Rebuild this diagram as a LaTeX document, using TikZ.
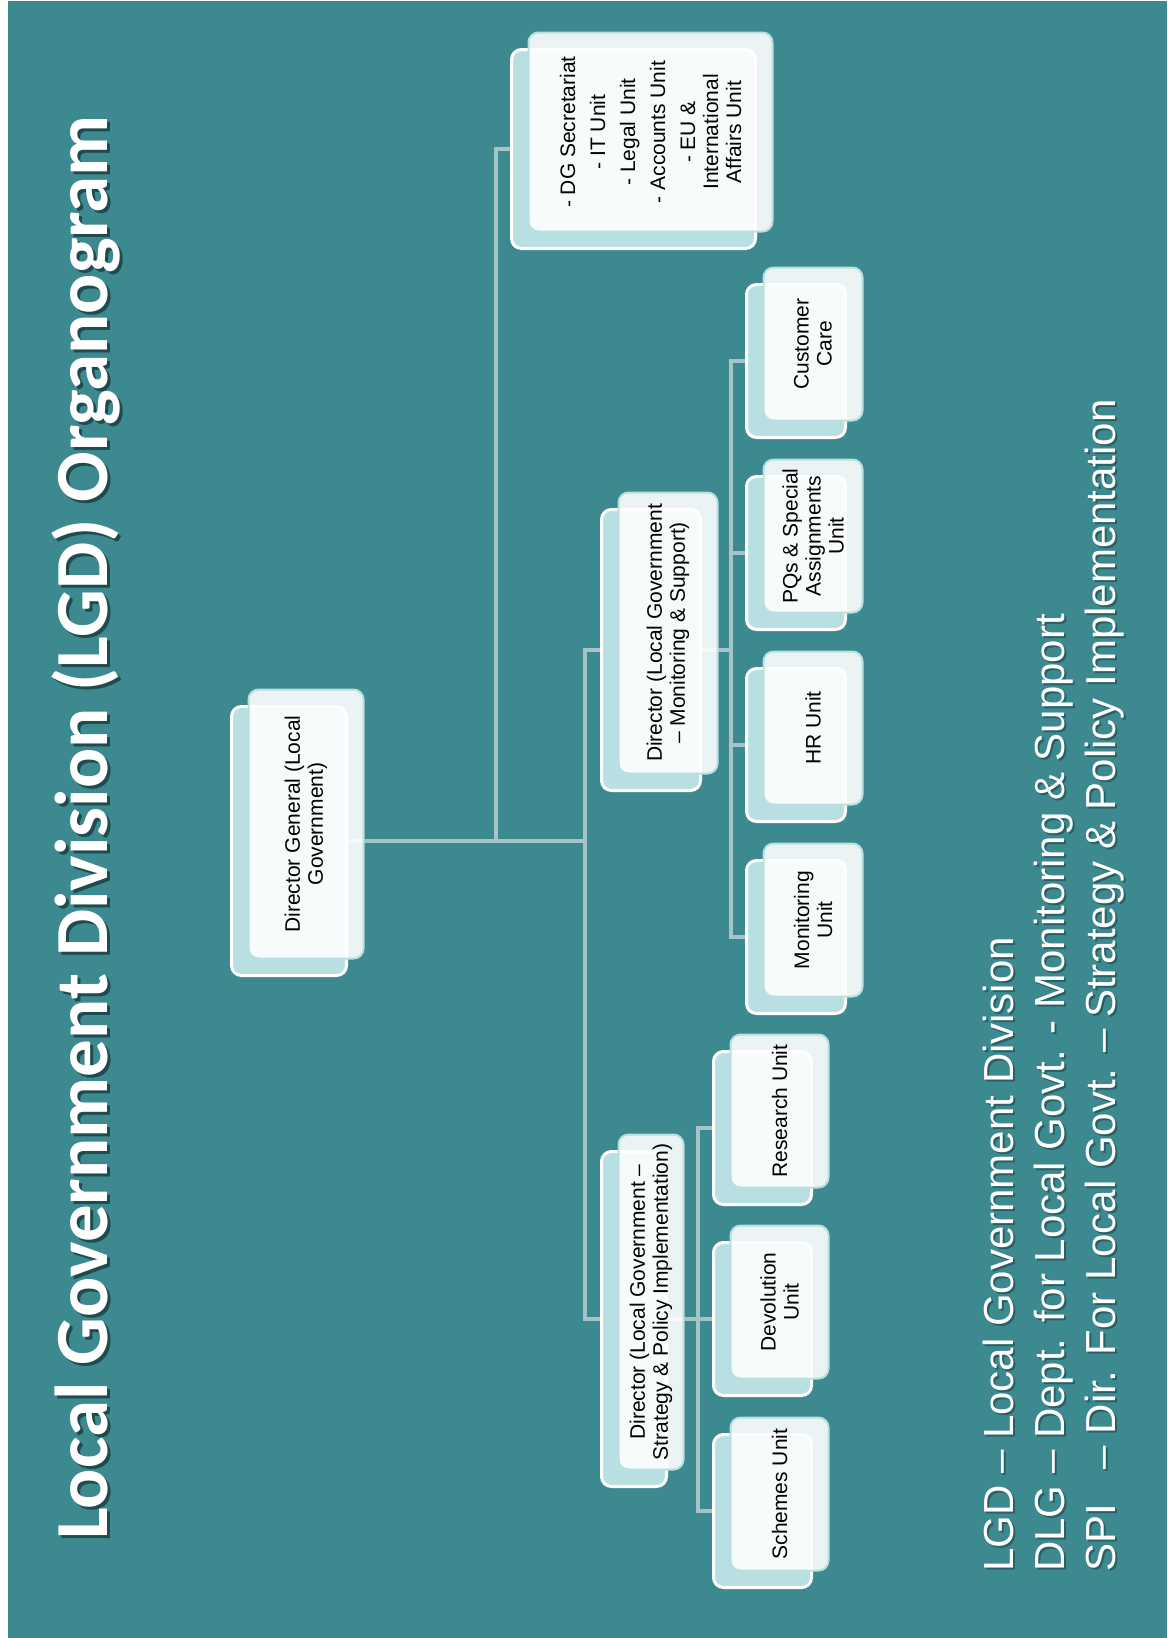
\documentclass[tikz,border=0pt]{standalone}
\usepackage{fontspec}
\setmainfont{Liberation Sans}
\newfontfamily\titlefont{Carlito}
\usetikzlibrary{calc,backgrounds}

\definecolor{slideteal}{RGB}{60,138,143}
\definecolor{paleteal}{RGB}{184,223,225}
\definecolor{linkgrey}{RGB}{165,196,198}

\begin{document}
\begin{tikzpicture}[x=1pt, y=1pt,
    unit/.style={rectangle, rounded corners=10pt, inner sep=0pt, outer sep=0pt,
      fill=paleteal, draw=white, line width=3pt,
      postaction={transform canvas={shift={(17pt,17pt)}}, fill=white, fill opacity=0.9, draw=paleteal, line width=2pt}},
    unittext/.style={rotate=90, align=center, text=black, font=\fontsize{21}{23}\selectfont},
    link/.style={draw=linkgrey, line width=3.5pt, line cap=rect},
    heading/.style={rotate=90, anchor=base west, inner sep=0pt, font=\titlefont\bfseries\fontsize{75}{80}\selectfont},
    keyline/.style={rotate=90, anchor=base west, inner sep=0pt, font=\fontsize{42}{48}\selectfont}]
  \useasboundingbox (0,0) rectangle (1167,-1638);

  % Title
  \node[heading, text=black, opacity=0.45] (titleshade) at (110,-1543) {Local Government Division (LGD) Organogram};
  \node[heading, text=white] (title) at (107,-1540) {Local Government Division (LGD) Organogram};

  % Director General and secretariat
  \node[unit, minimum width=115pt, minimum height=269pt] (dg) at (289,-841) {};
  \node[unittext] (dgtext) at ($(dg)+(17,17)$) {Director General (Local\\Government)};
  \node[unit, minimum width=244pt, minimum height=199pt] (sec) at (633.5,-149) {};
  \node[unittext] (sectext) at ($(sec)+(17,17)$) {- DG Secretariat\\[7pt]- IT Unit\\[7pt]- Legal Unit\\[7pt]- Accounts Unit\\[7pt]- EU \&\\International\\Affairs Unit};

  % Directors
  \node[unit, minimum width=99pt, minimum height=281pt] (mondir) at (651,-650) {};
  \node[unittext] (mondirtext) at ($(mondir)+(17,17)$) {Director (Local Government\\– Monitoring \& Support)};
  \node[unit, minimum width=65pt, minimum height=335pt] (spidir) at (634,-1319) {};
  \node[unittext] (spidirtext) at ($(spidir)+(17,17)$) {Director (Local Government –\\Strategy \& Policy Implementation)};

  % Monitoring & Support units
  \node[unit, minimum width=99pt, minimum height=153pt] (care) at (796,-361) {};
  \node[unittext] (caretext) at ($(care)+(17,17)$) {Customer\\Care};
  \node[unit, minimum width=99pt, minimum height=153pt] (pqs) at (796,-553) {};
  \node[unittext] (pqstext) at ($(pqs)+(17,17)$) {PQs \& Special\\Assignments\\Unit};
  \node[unit, minimum width=99pt, minimum height=153pt] (hr) at (796,-745) {};
  \node[unittext] (hrtext) at ($(hr)+(17,17)$) {HR Unit};
  \node[unit, minimum width=99pt, minimum height=153pt] (monunit) at (796,-937) {};
  \node[unittext] (monunittext) at ($(monunit)+(17,17)$) {Monitoring\\Unit};

  % Strategy & Policy units
  \node[unit, minimum width=98pt, minimum height=153pt] (research) at (762.5,-1128) {};
  \node[unittext] (researchtext) at ($(research)+(17,17)$) {Research Unit};
  \node[unit, minimum width=98pt, minimum height=153pt] (devol) at (762.5,-1319) {};
  \node[unittext] (devoltext) at ($(devol)+(17,17)$) {Devolution\\Unit};
  \node[unit, minimum width=98pt, minimum height=153pt] (schemes) at (762.5,-1511) {};
  \node[unittext] (schemestext) at ($(schemes)+(17,17)$) {Schemes Unit};

  % Key
  \node[keyline, text=black, opacity=0.3] (keylgdshade) at (1015,-1574) {LGD\ – Local Government Division};
  \node[keyline, text=black, opacity=0.3] (keydlgshade) at (1066,-1574) {DLG – Dept. for Local Govt. - Monitoring \& Support};
  \node[keyline, text=black, opacity=0.3] (keyspishade) at (1117,-1574) {SPI\ \ \ – Dir. For Local Govt. – Strategy \& Policy Implementation};
  \node[keyline, text=white] (keylgd) at (1013,-1572) {LGD\ – Local Government Division};
  \node[keyline, text=white] (keydlg) at (1064,-1572) {DLG – Dept. for Local Govt. - Monitoring \& Support};
  \node[keyline, text=white] (keyspi) at (1115,-1572) {SPI\ \ \ – Dir. For Local Govt. – Strategy \& Policy Implementation};

  \begin{scope}[on background layer]
    % Slide
    \fill[white] (0,0) rectangle (1167,-1638);
    \fill[slideteal] (8,-1) rectangle (1167,-1638);

    % Connectors
    \coordinate (spine) at (585,-841);
    \coordinate (aside) at (496,-841);
    \coordinate (monbus) at (731,-650);
    \coordinate (spibus) at (698,-1319);
    \draw[link] (dg.east) -- (spine);
    \draw[link] (spine |- mondir) -- (spine |- spidir);
    \draw[link] (spine |- mondir) -- (mondir.west);
    \draw[link] (spine |- spidir) -- (spidir.west);
    \draw[link] (aside) |- (sec.west);
    \draw[link] (mondir.east) -- (monbus);
    \draw[link] (monbus |- care) -- (monbus |- monunit);
    \draw[link] (monbus |- care) -- (care.west);
    \draw[link] (monbus |- pqs) -- (pqs.west);
    \draw[link] (monbus |- hr) -- (hr.west);
    \draw[link] (monbus |- monunit) -- (monunit.west);
    \draw[link] (spidir.east) -- (spibus);
    \draw[link] (spibus |- research) -- (spibus |- schemes);
    \draw[link] (spibus |- research) -- (research.west);
    \draw[link] (spibus |- devol) -- (devol.west);
    \draw[link] (spibus |- schemes) -- (schemes.west);
  \end{scope}
\end{tikzpicture}
\end{document}
